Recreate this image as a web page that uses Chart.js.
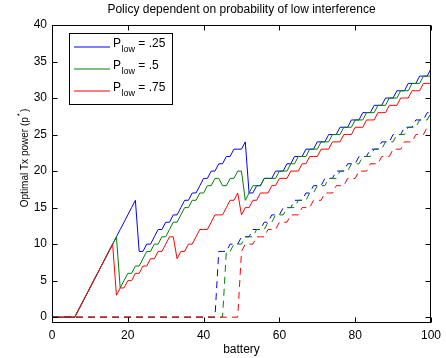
<!DOCTYPE html>
<html>
<head>
<meta charset="utf-8">
<script src="https://cdn.jsdelivr.net/npm/chart.js@4.4.1/dist/chart.umd.min.js"></script>
<style>
html,body{margin:0;padding:0;background:#fff;}
canvas{display:block;}
</style>
</head>
<body>
<canvas id="c" width="446" height="358"></canvas>
<script>
// ---- data ----
const chartTitle = 'Policy dependent on probability of low interference';
const xTitle = 'battery';
const yTitleMain = 'Optimal Tx power (p';
const yTitleSup = '*';
const yTitleEnd = ')';
const legendPrefix = 'P';
const legendSub = 'low';
const seriesLabels = [' = .25', ' = .5', ' = .75'];
const seriesColors = ['#0000ff', '#008000', '#ff0000'];

const xTicks = [0, 20, 40, 60, 80, 100];
const yTicks = [0, 5, 10, 15, 20, 25, 30, 35, 40];

const battery = [0,1,2,3,4,5,6,7,8,9,10,11,12,13,14,15,16,17,18,19,20,21,22,23,24,25,26,27,28,29,30,31,32,33,34,35,36,37,38,39,40,41,42,43,44,45,46,47,48,49,50,51,52,53,54,55,56,57,58,59,60,61,62,63,64,65,66,67,68,69,70,71,72,73,74,75,76,77,78,79,80,81,82,83,84,85,86,87,88,89,90,91,92,93,94,95,96,97,98,99,100];

// solid lines
const solid25 = [0,0,0,0,0,0,0, 1,2,3,4,5,6,7,8,9,10,11,12,13,14,15,16,
  9,9,10,10,11,12,12,13,13,14,14,15,16,16,17,17,18,19,19,20,20,21,21,22,22,23,23,23,24,
  17,17,18,18,19,19,19,20,20,20,21,21,22,22,22,23,23,23,24,24,24,25,25,25,26,26,26,27,27,27,28,28,28,29,29,29,30,30,30,31,31,31,32,32,32,33,33,33,34];
const solid50 = [0,0,0,0,0,0,0, 1,2,3,4,5,6,7,8,9,10,11,
  4,5,6,6,7,7,8,9,9,10,10,11,11,12,13,13,14,15,15,16,16,17,17,18,18,19,19,18,18,19,19,20,20,16,
  17,18,18,18,19,19,
  19,19,20,20,20,21,21,22,22,22,23,23,23,24,24,24,25,25,25,26,26,26,27,27,27,28,28,28,29,29,29,30,30,30,31,31,31,32,32,32,33,33,33];
const solid75 = [0,0,0,0,0,0,0, 1,2,3,4,5,6,7,8,9,10,
  3,4,4,5,5,6,6,7,7,8,8,9,9,10,11,11,8,9,9,10,10,11,12,12,12,13,14,14,14,15,16,16,17,
  14,15,15,16,16,17,
  17,17,18,18,19,19,19,20,20,20,21,21,22,22,22,23,23,23,24,24,24,25,25,25,26,26,26,27,27,27,28,28,28,29,29,29,30,30,30,31,31,31,32,32,32];

// dashed lines
const dashed25 = [0,0,0,0,0,0,0,0,0,0,0,0,0,0,0,0,0,0,0,0,0,0,0,0,0,0,0,0,0,0,0,0,0,0,0,0,0,0,0,0,0,0,0,0,
  9,9,9,10,10,10,11,11,11,12,12,12,13,13,14,14,14,15,15,15,16,16,16,17,17,18,18,18,19,19,19,20,20,20,21,21,21,22,22,22,23,23,23,24,24,24,25,25,25,26,26,26,27,27,27,28,28];
const dashed50 = [0,0,0,0,0,0,0,0,0,0,0,0,0,0,0,0,0,0,0,0,0,0,0,0,0,0,0,0,0,0,0,0,0,0,0,0,0,0,0,0,0,0,0,0,0,0,
  9,9,10,10,10,11,11,11,12,12,12,13,13,14,14,14,15,15,15,16,16,16,17,17,18,18,18,19,19,19,20,20,20,21,21,21,22,22,22,23,23,23,24,24,24,25,25,25,26,26,26,27,27,27,28];
const dashed75 = [0,0,0,0,0,0,0,0,0,0,0,0,0,0,0,0,0,0,0,0,0,0,0,0,0,0,0,0,0,0,0,0,0,0,0,0,0,0,0,0,0,0,0,0,0,0,0,0,0,0,
  9,10,10,10,11,11,11,12,12,12,13,13,13,14,14,14,15,15,15,16,16,16,17,17,17,18,18,18,19,19,19,20,20,20,21,21,21,22,22,22,23,23,23,24,24,24,25,25,25,26,26];

const yMin = -0.8, yMax = 40;
// ---- end data ----

const FONT = "'Liberation Sans', Arial, sans-serif";
Chart.defaults.font.family = FONT;
Chart.defaults.font.size = 12;
Chart.defaults.color = '#000';

function pts(vals){ return vals.map((v,i)=>({x: battery[i], y: v})); }

const series = [
  {data: dashed75, color: seriesColors[2], dash: true, order: 0},
  {data: dashed50, color: seriesColors[1], dash: true, order: 1},
  {data: dashed25, color: seriesColors[0], dash: true, order: 2},
  {data: solid75, color: seriesColors[2], dash: false, order: 3},
  {data: solid50, color: seriesColors[1], dash: false, order: 4},
  {data: solid25, color: seriesColors[0], dash: false, order: 5},
];

const framePlugin = {
  id: 'frame',
  afterDraw(chart){
    const ctx = chart.ctx;
    const a = chart.chartArea;
    const xs = chart.scales.x, ys = chart.scales.y;
    ctx.save();
    ctx.setLineDash([]);
    ctx.strokeStyle = '#000';
    ctx.lineWidth = 1;
    const L = Math.round(a.left)+0.5, R = Math.round(a.right)-0.5;
    const T = Math.round(a.top)+0.5, B = Math.round(a.bottom)-0.5;
    ctx.strokeRect(L, T, R-L, B-T);
    const tl = 5;
    ctx.beginPath();
    xTicks.forEach(v=>{
      const px = Math.round(xs.getPixelForValue(v))+0.5;
      ctx.moveTo(px, B); ctx.lineTo(px, B-tl);
      ctx.moveTo(px, T); ctx.lineTo(px, T+tl);
    });
    yTicks.forEach(v=>{
      const py = Math.round(ys.getPixelForValue(v))+0.5;
      ctx.moveTo(L, py); ctx.lineTo(L+tl, py);
      ctx.moveTo(R, py); ctx.lineTo(R-tl, py);
    });
    ctx.stroke();

    // title
    ctx.fillStyle = '#000';
    ctx.font = '12px ' + FONT;
    ctx.textAlign = 'center';
    ctx.textBaseline = 'middle';
    ctx.fillText(chartTitle, (a.left+a.right)/2, 10);

    // y axis title with superscript
    ctx.save();
    ctx.translate(24, 158);
    ctx.rotate(-Math.PI/2);
    ctx.textAlign = 'left';
    ctx.textBaseline = 'alphabetic';
    const fMain = '10px ' + FONT, fSup = '8px ' + FONT;
    ctx.font = fMain; const w1 = ctx.measureText(yTitleMain).width;
    const w3 = ctx.measureText(yTitleEnd).width;
    ctx.font = fSup; const w2 = ctx.measureText(yTitleSup).width + 2;
    let x0 = -(w1+w2+w3)/2;
    const base = 4;
    ctx.font = fMain; ctx.fillText(yTitleMain, x0, base);
    ctx.font = fSup; ctx.fillText(yTitleSup, x0 + w1 + 1, base - 6);
    ctx.font = fMain; ctx.fillText(yTitleEnd, x0 + w1 + w2, base);
    ctx.restore();

    // legend
    const bx = 69.5, by = 33.5, bw = 103, bh = 71;
    ctx.fillStyle = '#fff';
    ctx.fillRect(bx, by, bw, bh);
    ctx.strokeStyle = '#000';
    ctx.lineWidth = 1;
    ctx.strokeRect(bx, by, bw, bh);
    const rows = [47, 69, 91];
    rows.forEach((ry, i)=>{
      ctx.strokeStyle = seriesColors[i];
      ctx.lineWidth = 1.2;
      ctx.beginPath(); ctx.moveTo(74, ry); ctx.lineTo(110, ry); ctx.stroke();
      ctx.fillStyle = '#000';
      ctx.textAlign = 'left';
      ctx.textBaseline = 'alphabetic';
      let tx = 113;
      const bl = ry - 0.5;
      ctx.font = '12px ' + FONT;
      ctx.fillText(legendPrefix, tx, bl);
      tx += ctx.measureText(legendPrefix).width + 0.5;
      ctx.font = '9px ' + FONT;
      ctx.fillText(legendSub, tx, bl + 5);
      tx += ctx.measureText(legendSub).width;
      ctx.font = '12px ' + FONT;
      ctx.fillText(seriesLabels[i], tx, bl);
    });
    ctx.restore();
  }
};

new Chart(document.getElementById('c'), {
  type: 'line',
  data: {
    datasets: series.map(s=>({
      data: pts(s.data),
      borderColor: s.color,
      backgroundColor: s.color,
      borderWidth: 1,
      borderDash: s.dash ? [7,5] : [],
      pointRadius: 0,
      tension: 0,
      fill: false,
      order: s.order
    }))
  },
  options: {
    responsive: false,
    animation: false,
    devicePixelRatio: 1,
    layout: { padding: { left: 0, right: 14, top: 25, bottom: 0 } },
    plugins: { legend: {display: false}, tooltip: {enabled: false}, title: {display: false} },
    scales: {
      x: {
        type: 'linear', min: 0, max: 100,
        grid: {display: false, drawTicks: false},
        border: {display: false},
        ticks: {padding: 5, maxRotation: 0, color: '#000', font: {size: 12}},
        afterBuildTicks: s => { s.ticks = xTicks.map(v=>({value: v})); },
        afterFit: s => { s.height = 35; },
        title: {display: true, text: xTitle, color: '#000', font: {size: 12}, padding: {top: 0, bottom: 1}}
      },
      y: {
        type: 'linear', min: yMin, max: yMax,
        grid: {display: false, drawTicks: false},
        border: {display: false},
        ticks: {padding: 5, color: '#000', font: {size: 12}},
        afterBuildTicks: s => { s.ticks = yTicks.map(v=>({value: v})); },
        afterFit: s => { s.width = 52; }
      }
    }
  },
  plugins: [framePlugin]
});
</script>
</body>
</html>
